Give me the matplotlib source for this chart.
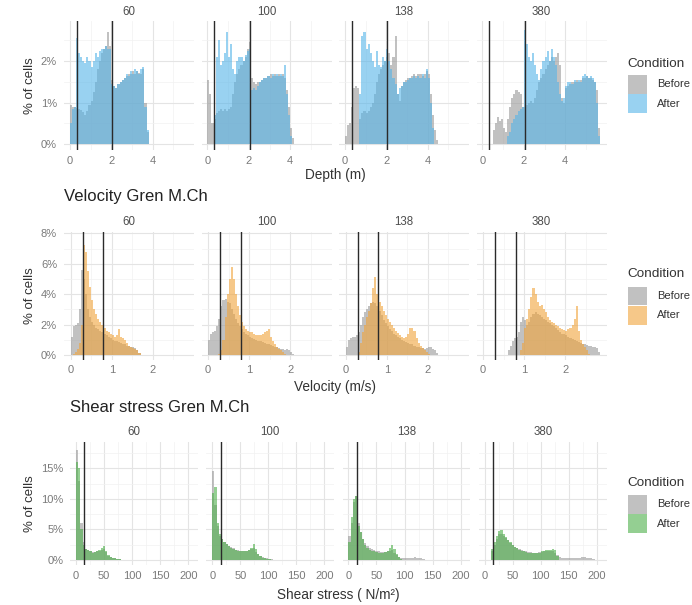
import matplotlib
matplotlib.use("Agg")
import matplotlib.pyplot as plt
import numpy as np
from matplotlib.patches import Rectangle

plt.rcParams["font.family"] = ["Liberation Sans", "DejaVu Sans"]

# ---------------------------------------------------------------- data
facets = ["60", "100", "138", "380"]
conditions = ["Before", "After"]

# Depth (m), histogram bins of 0.1 m, values in % of cells
depth_bin = 0.1
depth_before_start = [0.0, 0.0, 0.0, 0.5]
depth_after_start = [0.0, 0.3, 0.7, 1.2]
depth_before_60 = [0.95, 0.9, 0.9, 0.88, 0.85, 0.82, 0.78, 0.7, 0.8, 0.95, 1.05, 1.25, 1.5, 1.8,
                   2.0, 2.2, 2.3, 2.35, 2.7, 2.35, 1.55, 1.4, 1.35, 1.45, 1.5, 1.55, 1.6, 1.65,
                   1.7, 1.7, 1.75, 1.7, 1.75, 1.72, 1.7, 1.8, 1.0, 0.3]
depth_after_60 = [0.5, 0.85, 0.9, 2.55, 2.2, 2.1, 2.0, 1.95, 2.1, 2.0, 1.85, 2.0, 2.2, 2.1,
                  2.25, 2.3, 2.3, 2.35, 2.3, 2.3, 1.45, 1.4, 1.35, 1.45, 1.5, 1.55, 1.6, 1.7,
                  1.65, 1.75, 1.7, 1.8, 1.75, 1.7, 1.8, 1.85, 0.9, 0.35]
depth_before_100 = [1.55, 1.2, 0.5, 0.6, 0.75, 0.8, 0.85, 0.8, 0.85, 0.8, 0.85, 0.9, 1.2, 1.5,
                    1.7, 1.8, 1.9, 2.0, 2.1, 2.3, 2.45, 1.6, 1.5, 1.45, 1.5, 1.5, 1.55, 1.6,
                    1.6, 1.65, 1.7, 1.65, 1.7, 1.65, 1.7, 1.65, 1.7, 1.6, 1.3, 0.9, 0.4, 0.15]
depth_after_100 = [0.7, 2.1, 2.5, 1.9, 2.0, 2.2, 2.7, 2.1, 2.4, 1.8, 1.7, 2.0, 2.1, 2.1, 2.0,
                   2.15, 2.25, 2.3, 1.3, 1.35, 1.3, 1.4, 1.5, 1.55, 1.6, 1.6, 1.65, 1.6, 1.7,
                   1.65, 1.7, 1.65, 1.7, 1.65, 1.9, 1.2, 0.7, 0.2]
depth_before_138 = [0.2, 0.45, 0.5, 0.9, 1.35, 1.4, 1.35, 0.6, 0.75, 0.8, 0.75, 0.8, 0.9, 1.0,
                    1.2, 1.5, 1.7, 1.8, 1.9, 2.0, 2.1, 2.2, 1.9, 2.1, 2.6, 1.2, 1.05, 1.4, 1.5,
                    1.55, 1.6, 1.6, 1.65, 1.7, 1.65, 1.7, 1.7, 1.65, 1.7, 1.75, 1.7, 1.2, 0.7,
                    0.35, 0.1]
depth_after_138 = [1.2, 2.6, 2.7, 2.3, 2.4, 2.2, 2.0, 1.85, 2.25, 1.9, 1.85, 2.1, 2.0, 2.3, 2.0,
                   1.8, 1.6, 1.45, 1.2, 1.35, 1.4, 1.5, 1.5, 1.55, 1.6, 1.6, 1.65, 1.6, 1.65,
                   1.6, 1.7, 1.6, 1.8, 1.6, 1.0, 0.4]
depth_before_380 = [0.35, 0.5, 0.65, 0.55, 0.6, 0.4, 0.3, 0.6, 0.9, 1.1, 1.2, 1.3, 1.25, 1.2,
                    0.9, 0.9, 0.95, 1.0, 1.05, 1.0, 1.1, 1.3, 1.5, 1.6, 1.7, 1.8, 1.9, 2.0, 2.1,
                    2.0, 2.1, 2.2, 1.9, 1.1, 1.0, 1.35, 1.4, 1.45, 1.5, 1.5, 1.55, 1.5, 1.55,
                    1.6, 1.6, 1.65, 1.6, 1.6, 1.55, 1.5, 1.3, 0.4]
depth_after_380 = [0.2, 0.3, 0.5, 0.6, 0.7, 0.8, 0.85, 0.9, 2.75, 2.4, 2.1, 2.0, 2.2, 1.9, 1.7,
                   1.55, 1.8, 2.0, 2.1, 2.25, 2.0, 2.3, 2.1, 1.9, 1.5, 1.2, 1.05, 1.1, 1.4, 1.5,
                   1.5, 1.45, 1.55, 1.5, 1.55, 1.5, 1.65, 1.7, 1.65, 1.6, 1.65, 1.6, 1.5, 1.0,
                   0.2]
depth_limits = [0.33, 2.05]

# Velocity (m/s), bins of 0.05 m/s
vel_bin = 0.05
vel_before_start = [0.0, 0.0, 0.0, 0.6]
vel_after_start = [0.05, 0.25, 0.3, 0.9]
vel_before_60 = [1.2, 1.9, 2.0, 2.1, 3.0, 5.6, 5.0, 4.0, 3.0, 2.5, 2.2, 2.0, 1.8, 1.7, 1.6, 1.5,
                 1.4, 1.3, 1.2, 1.1, 1.0, 0.95, 0.9, 0.85, 0.8, 0.75, 0.7, 0.6, 0.6, 0.55, 0.5,
                 0.45, 0.3, 0.15]
vel_after_60 = [0.1, 0.2, 0.4, 0.8, 2.0, 7.2, 6.8, 5.5, 4.5, 3.6, 3.0, 2.7, 2.4, 2.2, 2.0, 1.8,
                1.6, 1.5, 1.4, 1.3, 1.2, 1.3, 1.7, 1.2, 1.1, 1.0, 0.8, 0.6, 0.5, 0.45, 0.4, 0.3,
                0.15]
vel_before_100 = [1.0, 1.4, 1.5, 1.6, 1.9, 2.4, 3.2, 3.6, 3.7, 3.5, 3.4, 3.0, 2.7, 2.4, 2.1, 1.9,
                  1.7, 1.5, 1.4, 1.3, 1.2, 1.1, 1.05, 1.0, 0.95, 0.9, 0.85, 0.8, 0.75, 0.7, 0.65,
                  0.6, 0.55, 0.5, 0.45, 0.4, 0.4, 0.35, 0.4, 0.35, 0.2, 0.1]
vel_after_100 = [0.1, 0.3, 1.0, 2.5, 4.0, 5.0, 5.8, 5.0, 4.0, 3.2, 2.6, 2.2, 1.9, 1.7, 1.6, 1.5,
                 1.5, 1.4, 1.3, 1.3, 1.3, 1.4, 1.5, 1.6, 1.7, 1.2, 0.9, 0.7, 0.5, 0.4, 0.3, 0.2,
                 0.1]
vel_before_138 = [0.5, 1.0, 1.1, 1.2, 1.2, 1.3, 1.5, 2.0, 2.5, 2.8, 3.0, 3.2, 3.4, 3.5, 3.4, 3.2,
                  2.9, 2.6, 2.3, 2.1, 1.9, 1.7, 1.6, 1.4, 1.3, 1.2, 1.1, 1.0, 0.9, 0.85, 0.8,
                  0.75, 0.7, 0.6, 0.55, 0.5, 0.45, 0.45, 0.4, 0.45, 0.5, 0.5, 0.4, 0.3, 0.15]
vel_after_138 = [0.2, 0.8, 1.5, 2.0, 2.5, 2.9, 3.4, 4.4, 5.1, 4.0, 3.5, 3.2, 2.9, 2.6, 2.4, 2.2,
                 2.0, 1.8, 1.6, 1.45, 1.3, 1.2, 1.1, 1.2, 1.4, 1.8, 1.8, 1.6, 1.1, 0.8, 0.6, 0.45,
                 0.3, 0.2, 0.1]
vel_before_380 = [0.3, 0.6, 0.9, 1.1, 1.2, 1.5, 2.2, 2.5, 2.3, 2.0, 2.2, 2.5, 2.7, 2.8, 2.7, 2.6,
                  2.5, 2.4, 2.3, 2.2, 2.1, 2.0, 1.9, 1.8, 1.65, 1.5, 1.4, 1.35, 1.3, 1.2, 1.1,
                  1.05, 1.0, 0.9, 0.85, 0.8, 0.75, 0.7, 0.65, 0.6, 0.6, 0.55, 0.5, 0.45, 0.2]
vel_after_380 = [0.3, 0.8, 1.8, 2.4, 3.0, 3.8, 4.4, 4.0, 3.5, 3.2, 3.3, 3.0, 2.8, 2.5, 2.3, 2.2,
                 2.1, 2.0, 1.9, 1.8, 1.7, 1.65, 1.6, 1.7, 1.8, 2.0, 2.4, 3.2, 1.6, 1.0, 0.7, 0.5,
                 0.3, 0.1]
vel_limits = [0.3, 0.8]

# Shear stress (N/m2), bins of 4 N/m2
shear_bin = 4
shear_before_start = [0, 0, 0, 12]
shear_after_start = [0, 0, 0, 12]
shear_before_60 = [18, 13, 6, 3, 1.8, 1.6, 1.5, 1.3, 1.3, 1.4, 1.5, 1.7, 1.8, 1.3, 0.7, 0.5, 0.4,
                   0.3, 0.2, 0.1]
shear_after_60 = [16, 15, 5, 2.5, 1.8, 1.6, 1.4, 1.2, 1.3, 1.5, 1.7, 2.0, 2.3, 1.5, 0.8, 0.5, 0.4,
                  0.3, 0.2, 0.1]
shear_before_100 = [14.5, 9, 5.5, 4, 3.4, 3.0, 2.6, 2.3, 2.1, 1.9, 1.7, 1.6, 1.5, 1.5, 1.5, 1.5,
                    1.6, 1.8, 2.0, 1.3, 0.9, 0.7, 0.5, 0.4, 0.3, 0.2, 0.1]
shear_after_100 = [11, 12, 6, 4.2, 3.4, 3.0, 2.6, 2.3, 2.0, 1.8, 1.6, 1.5, 1.4, 1.4, 1.4, 1.5,
                   1.7, 2.0, 2.6, 1.8, 1.0, 0.6, 0.4, 0.3, 0.2, 0.1, 0.05]
shear_before_138 = [4, 6, 9.5, 10.5, 6, 4.5, 3.5, 2.8, 2.3, 2.0, 1.8, 1.6, 1.5, 1.4, 1.3, 1.3,
                    1.3, 1.4, 1.5, 1.6, 1.2, 0.8, 0.5, 0.35, 0.3, 0.3, 0.3, 0.3, 0.35, 0.45, 0.4,
                    0.3, 0.25, 0.15]
shear_after_138 = [3, 7, 10, 10.5, 5.5, 4.5, 3.5, 2.5, 2.0, 1.7, 1.5, 1.4, 1.3, 1.2, 1.2, 1.2,
                   1.3, 1.5, 2.0, 2.5, 1.8, 1.0, 0.5, 0.2]
shear_before_380 = [1.5, 2.5, 3.5, 4.2, 4.3, 4.0, 3.6, 3.2, 2.8, 2.5, 2.2, 2.0, 1.8, 1.6, 1.5,
                    1.4, 1.3, 1.3, 1.2, 1.2, 1.2, 1.3, 1.3, 1.4, 1.5, 1.5, 1.5, 1.4, 1.2, 0.8,
                    0.5, 0.4, 0.35, 0.3, 0.3, 0.35, 0.3, 0.3, 0.35, 0.4, 0.5, 0.55, 0.4, 0.35,
                    0.3, 0.2]
shear_after_380 = [1.8, 3.0, 4.0, 4.8, 4.9, 4.3, 3.7, 3.3, 2.9, 2.5, 2.2, 1.9, 1.7, 1.5, 1.4, 1.3,
                   1.2, 1.2, 1.15, 1.1, 1.1, 1.2, 1.4, 1.5, 1.6, 1.7, 1.7, 1.8, 1.6, 0.6]
shear_limits = [15]

# ---------------------------------------------------------------- style
W, H = 692, 605
BEFORE_COLOR = "#999999"
ALPHA = 0.6
TICK_COLOR = "#7A7A7A"
TEXT_COLOR = "#333333"


def px_axes(fig, left, top, width, height):
    return fig.add_axes([left / W, 1 - (top + height) / H, width / W, height / H])


def fig_text(fig, x, y, s, **kw):
    return fig.text(x / W, 1 - y / H, s, **kw)


def draw_hist(ax, start, values, bw, color):
    # one polygon per series so that alpha does not leave seams between bins
    edges = start + bw * np.arange(len(values) + 1)
    heights = np.r_[values, values[-1]]
    ax.fill_between(edges, 0, heights, step="post", facecolor=color, alpha=ALPHA,
                    linewidth=0, edgecolor="none")


def draw_legend(fig, title_y, key_top, after_color):
    fig_text(fig, 627, title_y, "Condition", size=9.7, color=TEXT_COLOR, ha="left", va="center")
    for i, (lab, col) in enumerate(zip(conditions, [BEFORE_COLOR, after_color])):
        top = key_top + i * 19.3
        fig.add_artist(Rectangle((628 / W, 1 - (top + 18.5) / H), 19 / W, 18.5 / H,
                                 transform=fig.transFigure, facecolor=col, alpha=ALPHA, lw=0))
        fig_text(fig, 657, top + 9.25, lab, size=8, color=TEXT_COLOR, ha="left", va="center")


def draw_row(fig, row):
    for i, f in enumerate(facets):
        left = row["left0"] + i * row["step"]
        ax = px_axes(fig, left, row["top"], row["width"], row["height"])
        draw_hist(ax, row["before_start"][i], row["before"][i], row["bw"], BEFORE_COLOR)
        draw_hist(ax, row["after_start"][i], row["after"][i], row["bw"], row["color"])
        for v in row["vlines"]:
            ax.axvline(v, color="#2A2A2A", lw=1.0, zorder=5)
        ax.set_xlim(row["xlim"])
        ax.set_ylim(row["ylim"])
        ax.set_xticks(row["xmajor"])
        ax.set_xticks(row["xminor"], minor=True)
        ax.set_yticks(row["ymajor"])
        ax.set_yticks(row["yminor"], minor=True)
        ax.grid(which="major", color="#E4E4E4", lw=0.8)
        ax.grid(which="minor", color="#F1F1F1", lw=0.5)
        ax.set_axisbelow(True)
        for s in ax.spines.values():
            s.set_visible(False)
        ax.tick_params(which="both", length=0, labelsize=8, labelcolor=TICK_COLOR)
        ax.tick_params(axis="x", pad=4)
        ax.tick_params(axis="y", pad=5)
        ax.set_xticklabels([f"{v:g}" for v in row["xmajor"]])
        if i == 0:
            ax.set_yticklabels([f"{v:g}%" for v in row["ymajor"]])
        else:
            ax.set_yticklabels([])
        fig_text(fig, left + row["width"] / 2, row["strip_y"], f, size=8.3, color="#4D4D4D",
                 ha="center", va="center")

    mid_y = row["top"] + row["height"] / 2
    fig_text(fig, 30, mid_y, "% of cells", size=9.5, color=TEXT_COLOR, rotation=90,
             ha="center", va="center")
    right = row["left0"] + 3 * row["step"] + row["width"]
    fig_text(fig, (row["left0"] + right) / 2, row["xlabel_y"], row["xlabel"], size=9.8,
             color=TEXT_COLOR, ha="center", va="center")
    if row["title"]:
        fig_text(fig, row["left0"], row["title_y"], row["title"], size=12, color="#222222",
                 ha="left", va="center")
    draw_legend(fig, row["legend_title_y"], row["legend_key_top"], row["color"])


rows = [
    dict(before=[depth_before_60, depth_before_100, depth_before_138, depth_before_380],
         after=[depth_after_60, depth_after_100, depth_after_138, depth_after_380],
         before_start=depth_before_start, after_start=depth_after_start, bw=depth_bin,
         color="#56B4E9", vlines=depth_limits,
         left0=64, step=137.5, width=130, top=20.7, height=129.3,
         xlim=(-0.28, 5.99), ylim=(-0.14, 2.97),
         xmajor=[0, 2, 4], xminor=[1, 3, 5], ymajor=[0, 1, 2], yminor=[0.5, 1.5, 2.5],
         strip_y=11.7, xlabel="Depth (m)", xlabel_y=175, title=None, title_y=None,
         legend_title_y=64, legend_key_top=75),
    dict(before=[vel_before_60, vel_before_100, vel_before_138, vel_before_380],
         after=[vel_after_60, vel_after_100, vel_after_138, vel_after_380],
         before_start=vel_before_start, after_start=vel_after_start, bw=vel_bin,
         color="#F0A43A", vlines=vel_limits,
         left0=64, step=137.5, width=130, top=231.8, height=127.8,
         xlim=(-0.16, 3.0), ylim=(-0.3, 8.1),
         xmajor=[0, 1, 2], xminor=[0.5, 1.5, 2.5], ymajor=[0, 2, 4, 6, 8],
         yminor=[1, 3, 5, 7],
         strip_y=221.7, xlabel="Velocity (m/s)", xlabel_y=386.7,
         title="Velocity Gren M.Ch", title_y=197,
         legend_title_y=274.3, legend_key_top=286.7),
    dict(before=[shear_before_60, shear_before_100, shear_before_138, shear_before_380],
         after=[shear_after_60, shear_after_100, shear_after_138, shear_after_380],
         before_start=shear_before_start, after_start=shear_after_start, bw=shear_bin,
         color="#4DAF4A", vlines=shear_limits,
         left0=70.1, step=136.2, width=128, top=441.7, height=123.3,
         xlim=(-10.5, 217.5), ylim=(-0.82, 19.35),
         xmajor=[0, 50, 100, 150, 200], xminor=[25, 75, 125, 175],
         ymajor=[0, 5, 10, 15], yminor=[2.5, 7.5, 12.5, 17.5],
         strip_y=431.7, xlabel="Shear stress ( N/m²)", xlabel_y=595,
         title="Shear stress Gren M.Ch", title_y=408,
         legend_title_y=482.7, legend_key_top=495),
]

fig = plt.figure(figsize=(W / 100, H / 100), dpi=100)
fig.patch.set_facecolor("white")
for row in rows:
    draw_row(fig, row)

fig.savefig("out.png", dpi=100)
plt.close(fig)
